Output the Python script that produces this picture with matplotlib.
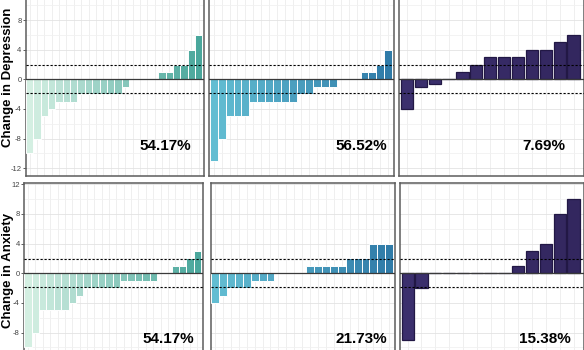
#!/usr/bin/env python3

"""
Waterfall plots of individual change in depression and anxiety per group.
"""

import matplotlib
matplotlib.use("Agg")
import matplotlib.pyplot as plt
from matplotlib.colors import to_rgb

W, H = 584, 350

# per-participant change scores, sorted, one list per group
dep_group1 = [-10, -8, -5, -4, -3, -3, -3, -2, -2, -2, -2, -2, -2, -1,
              0, 0, 0, 0, 1, 1, 2, 2, 4, 6]
dep_group2 = [-11, -8, -5, -5, -5, -3, -3, -3, -3, -3, -3, -2, -2, -1, -1, -1,
              0, 0, 0, 1, 1, 2, 4]
dep_group3 = [-4, -1, -0.6, 0, 1, 2, 3, 3, 3, 4, 4, 5, 6]
anx_group1 = [-10, -8, -5, -5, -5, -5, -4, -3, -2, -2, -2, -2, -2,
              -1, -1, -1, -1, -1, 0, 0, 1, 1, 2, 3]
anx_group2 = [-4, -3, -2, -2, -2, -1, -1, -1, 0, 0, 0, 0,
              1, 1, 1, 1, 1, 2, 2, 2, 4, 4, 4]
anx_group3 = [-9, -2, 0, 0, 0, 0, 0, 0, 1, 3, 4, 8, 10]

dep_labels = ["54.17%", "56.52%", "7.69%"]
anx_labels = ["54.17%", "21.73%", "15.38%"]
dep_ticks = [-12, -8, -4, 0, 4, 8]
anx_ticks = [-8, -4, 0, 4, 8, 12]
threshold = 1.9

# bar colours per group: (first bar, last bar, edge)
group_colors = [("#d4efe2", "#4aa79c", "white"),
                ("#62bdd2", "#2f7ba8", "white"),
                ("#3b2f6d", "#33275f", "#221845")]


def px_axes(fig, x0, x1, ytop, ybot):
    """ add axes from pixel box (y measured from top) """
    return fig.add_axes([x0 / W, 1 - ybot / H, (x1 - x0) / W, (ybot - ytop) / H])


def shade(c0, c1, n):
    """ colours going from c0 to c1 over n bars """
    a, b = to_rgb(c0), to_rgb(c1)
    if n == 1:
        return [a]
    return [tuple(a[k] + (b[k] - a[k]) * i / (n - 1) for k in range(3))
            for i in range(n)]


def draw_panel(ax, values, colors, label, ylim, yticks, first, text_xy):
    n = len(values)
    c0, c1, edge = colors
    xs = list(range(n))
    if edge == "white":
        ax.bar(xs, values, width=1.0, color=shade(c0, c1, n),
               edgecolor="white", linewidth=0.7, zorder=3)
    else:
        ax.bar(xs, values, width=0.88, color=shade(c0, c1, n),
               edgecolor=edge, linewidth=0.9, zorder=3)
    ax.axhline(0, color="#3a3a3a", linewidth=0.9, zorder=4)
    for t in (threshold, -threshold):
        ax.axhline(t, color="black", linewidth=0.8,
                   linestyle=(0, (2, 1.6)), zorder=5)
    ax.set_xlim(-0.55, n - 0.28)
    ax.set_ylim(*ylim)
    # grid
    for x in xs:
        ax.axvline(x, color="#ececec", linewidth=0.6, zorder=1)
    for y in range(-14, 15, 2):
        col = "#e3e3e3" if y % 4 == 0 else "#f1f1f1"
        ax.axhline(y, color=col, linewidth=0.6, zorder=1)
    ax.set_xticks([])
    if first:
        ax.set_yticks(yticks)
        ax.set_yticklabels([str(t) for t in yticks])
        ax.tick_params(axis="y", length=2, width=0.6, pad=1,
                       labelsize=5.5, colors="#444444")
    else:
        ax.set_yticks([])
    for sp in ax.spines.values():
        sp.set_color("#5c5c5c")
        sp.set_linewidth(1.1)
    fig = ax.figure
    fig.text(text_xy[0] / W, 1 - text_xy[1] / H, label, ha="right",
             va="baseline", fontsize=11, fontweight="bold",
             family="Liberation Sans")


def main():
    plt.rcParams["font.family"] = ["Liberation Sans", "DejaVu Sans"]
    fig = plt.figure(figsize=(W / 100, H / 100), dpi=100)

    top = [(25.7, 204.0), (209.3, 394.0), (399.3, 583.5)]
    bot = [(24.0, 202.7), (210.7, 395.0), (400.0, 583.5)]
    dep = [dep_group1, dep_group2, dep_group3]
    anx = [anx_group1, anx_group2, anx_group3]
    top_text = [(190.7, 150.0), (386.7, 150.0), (565.7, 150.0)]
    bot_text = [(194.0, 343.3), (387.3, 343.3), (570.7, 343.3)]

    for i in range(3):
        ax = px_axes(fig, top[i][0], top[i][1], -16.9, 175.5)
        draw_panel(ax, dep[i], group_colors[i], dep_labels[i], (-13, 13),
                   dep_ticks, i == 0, top_text[i])
        ax = px_axes(fig, bot[i][0], bot[i][1], 183.3, 363.8)
        draw_panel(ax, anx[i], group_colors[i], anx_labels[i], (-12.2, 12.13),
                   anx_ticks, i == 0, bot_text[i])

    fig.text(8 / W, 1 - 77.5 / H, "Change in Depression", rotation=90,
             ha="center", va="center", fontsize=9.5, fontweight="bold")
    fig.text(8 / W, 1 - 270.5 / H, "Change in Anxiety", rotation=90,
             ha="center", va="center", fontsize=9.5, fontweight="bold")

    fig.savefig("out.png", dpi=100)


if __name__ == "__main__":
    main()
